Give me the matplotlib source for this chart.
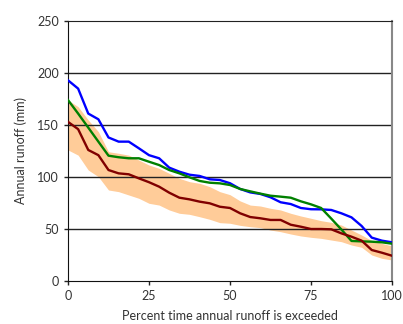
import matplotlib
matplotlib.use('Agg')
import matplotlib.pyplot as plt
import numpy as np

# percent time exceeded, 33 ranked years
pct = np.linspace(0, 100, 33)

blue = [193, 185, 161, 155.5, 138, 134, 134, 127.6, 121, 118, 109,
        105.1, 102.2, 101, 97.8, 97.1, 94, 88.5, 85.2, 83.7, 80.5, 75.7,
        74, 70.2, 69, 68.9, 68.3, 65.1, 61.2, 52.9, 41.7, 38.8, 37.2]
green = [174, 161, 147.5, 134, 120.5, 119, 118, 118, 114.7, 111.5, 106.7,
         103.5, 99.7, 96.2, 94.5, 93.9, 92.3, 88.5, 86.2, 84, 82, 81.1,
         80.1, 76.6, 73.7, 70.2, 60, 49.5, 38.5, 38.1, 37.8, 37.2, 35.9]
red = [153, 146, 126, 121, 106.7, 103.5, 102.6, 98.7, 95, 90.7, 84.9,
       80.1, 78.5, 76.3, 74.7, 71.4, 70.2, 65.1, 61.5, 60.3, 58.7, 58.7,
       54.1, 52.2, 50, 50, 49.7, 45.8, 42.6, 38.8, 29.8, 27.2, 24.3]
band_hi = [174, 167.6, 154.8, 143.6, 124.3, 122.8, 121, 116.3, 111.5, 108.3,
           103.5, 98.7, 95.5, 93.9, 90.7, 85.9, 83, 77, 73, 72.1, 69.9, 68.3,
           65.1, 62.5, 60.3, 58, 56.4, 53.8, 49, 44.2, 38.8, 36.2, 33.7]
band_lo = [126, 121, 106.7, 100.3, 87.5, 85.9, 82.7, 79.5, 74.7, 73, 68.3,
           65.1, 64.1, 61.8, 59.3, 56.1, 55.5, 53.5, 52.2, 51.3, 49, 47.4,
           45.2, 43.3, 42, 41, 39.4, 37.8, 34.6, 32.4, 25, 21.8, 20.2]

plt.rcParams['font.family'] = ['Lato', 'DejaVu Sans']
txt = '#333333'

fig = plt.figure(figsize=(4.03, 3.24), dpi=100)
ax = fig.add_axes([68 / 403, 1 - 281 / 324, 324 / 403, 260 / 324])

ax.fill_between(pct, band_lo, band_hi, color='#ffcc99', lw=0, zorder=1)
for y in [50, 100, 150, 200]:
    ax.axhline(y, color='#222222', lw=1.0, zorder=2)
ax.plot(pct, blue, color='#0000ff', lw=1.7, zorder=3)
ax.plot(pct, green, color='#008000', lw=1.7, zorder=3)
ax.plot(pct, red, color='#800000', lw=1.7, zorder=3)

ax.set_xlim(0, 100)
ax.set_ylim(0, 250)
ax.set_xticks([0, 25, 50, 75, 100])
ax.set_yticks([0, 50, 100, 150, 200, 250])
ax.tick_params(direction='out', length=3, width=1, colors='#222222',
               labelsize=9, labelcolor=txt)

ax.spines['left'].set_color('#111111')
ax.spines['bottom'].set_color('#111111')
ax.spines['top'].set_color('#222222')
ax.spines['right'].set_color('#888888')
ax.spines['right'].set_linewidth(1.5)

ax.set_xlabel('Percent time annual runoff is exceeded', fontsize=9, color=txt, labelpad=6)
ax.set_ylabel('Annual runoff (mm)', fontsize=9, color=txt, labelpad=7)

fig.savefig('out.png', dpi=100)
